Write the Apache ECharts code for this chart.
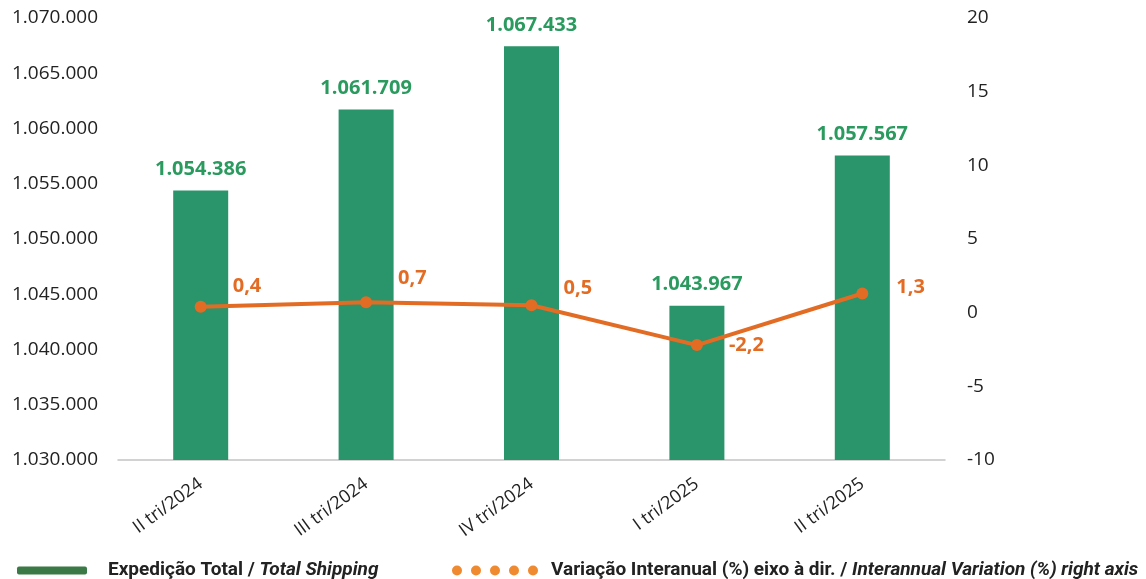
<!DOCTYPE html>
<html>
<head>
<meta charset="utf-8">
<script src="https://cdn.jsdelivr.net/npm/echarts@6/dist/echarts.min.js"></script>
<style>
  html, body { margin: 0; padding: 0; background: #fff; }
  #chart { width: 1146px; height: 579px; }
</style>
</head>
<body>
<div id="chart"></div>
<script>
// dados
const categories = ['II tri/2024', 'III tri/2024', 'IV tri/2024', 'I tri/2025', 'II tri/2025']
const shipping = [1054386, 1061709, 1067433, 1043967, 1057567]
const variation = [0.4, 0.7, 0.5, -2.2, 1.3]

// deslocamento dos rótulos da linha
const lineLabelOffset = [[0, -20], [0, -24], [0, -17], [0, 0], [2, -6]]

const fmtPt = (v) => Math.round(v).toString().replace(/\B(?=(\d{3})+(?!\d))/g, '.')
const fmtPct = (v) => v.toFixed(1).replace('.', ',')

const chart = echarts.init(document.getElementById('chart'))

// cinco pontos da legenda da linha
const dotsIcon = 'path://M0,5a5,5 0 1,0 10,0a5,5 0 1,0 -10,0M19,5a5,5 0 1,0 10,0a5,5 0 1,0 -10,0M38,5a5,5 0 1,0 10,0a5,5 0 1,0 -10,0M57,5a5,5 0 1,0 10,0a5,5 0 1,0 -10,0M76,5a5,5 0 1,0 10,0a5,5 0 1,0 -10,0'

const legendText = (pad) => ({
  fontFamily: 'Roboto',
  fontSize: 19,
  color: '#222',
  rich: {
    b: { fontFamily: 'Roboto', fontSize: 19, fontWeight: 'bold', color: '#222', padding: [0, 0, 0, pad] },
    i: { fontFamily: 'Roboto', fontSize: 19, fontWeight: 'bold', fontStyle: 'italic', color: '#222' }
  }
})

const option = {
  animation: false,
  grid: { left: 118, right: 201, top: 18, bottom: 119 },
  legend: [
    {
      left: 12, top: 556,
      itemWidth: 70, itemHeight: 8, itemGap: 10,
      textStyle: legendText(16),
      selectedMode: false,
      data: [{ name: 'Expedição Total', icon: 'roundRect', itemStyle: { color: '#3b7a47' } }],
      formatter: () => '{b|Expedição Total / }{i|Total Shipping}'
    },
    {
      left: 447, top: 556,
      itemWidth: 86, itemHeight: 10, itemGap: 10,
      textStyle: legendText(8),
      selectedMode: false,
      data: [{ name: 'Variação Interanual', icon: dotsIcon, itemStyle: { color: '#f08a30' } }],
      formatter: () => '{b|Variação Interanual (%) eixo à dir. / }{i|Interannual Variation (%) right axis}'
    }
  ],
  xAxis: {
    type: 'category',
    data: categories,
    axisLine: { onZero: false, lineStyle: { color: '#c4c4c4', width: 1.5 } },
    axisTick: { show: false },
    axisLabel: {
      rotate: 36,
      margin: 22,
      fontFamily: 'Open Sans',
      fontSize: 18,
      color: '#222'
    }
  },
  yAxis: [
    {
      type: 'value',
      min: 1030000, max: 1070000, interval: 5000,
      splitLine: { show: false },
      axisLine: { show: false },
      axisLabel: {
        formatter: fmtPt,
        fontFamily: 'Open Sans',
        fontSize: 19,
        color: '#222',
        margin: 20
      }
    },
    {
      type: 'value',
      min: -10, max: 20, interval: 5,
      splitLine: { show: false },
      axisLine: { show: false },
      axisLabel: {
        fontFamily: 'Open Sans',
        fontSize: 19,
        color: '#222',
        margin: 22
      }
    }
  ],
  series: [
    {
      name: 'Expedição Total',
      type: 'bar',
      yAxisIndex: 0,
      barWidth: 55,
      data: shipping,
      itemStyle: { color: '#2a946a' },
      label: {
        show: true,
        position: 'top',
        distance: 11,
        formatter: (p) => fmtPt(p.value),
        fontFamily: 'Open Sans',
        fontWeight: 'bold',
        fontSize: 20,
        color: '#2b9a5f'
      }
    },
    {
      name: 'Variação Interanual',
      type: 'line',
      yAxisIndex: 1,
      symbol: 'circle',
      symbolSize: 12,
      lineStyle: { color: '#e36c25', width: 4 },
      itemStyle: { color: '#e36c25' },
      data: variation.map((v, i) => ({
        value: v,
        label: { offset: lineLabelOffset[i] }
      })),
      label: {
        show: true,
        position: 'right',
        distance: 26,
        formatter: (p) => fmtPct(p.value),
        fontFamily: 'Open Sans',
        fontWeight: 'bold',
        fontSize: 20,
        color: '#e36c25'
      }
    }
  ]
}

chart.setOption(option)
</script>
</body>
</html>
